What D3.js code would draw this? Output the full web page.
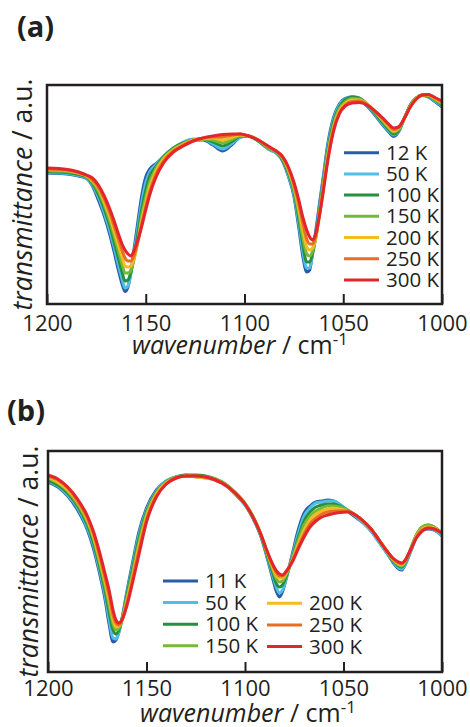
<!DOCTYPE html>
<html>
<head>
<meta charset="utf-8">
<script src="https://cdn.jsdelivr.net/npm/d3@7"></script>
<style>
  body { margin: 0; background: #fff; }
  svg { display: block; font-family: "Open Sans", sans-serif; }
</style>
</head>
<body>
<svg id="chart" width="470" height="727"></svg>
<script>
// legend labels and colours (cold -> warm)
var tempsA = ["12 K", "50 K", "100 K", "150 K", "200 K", "250 K", "300 K"]
var tempsB = ["11 K", "50 K", "100 K", "150 K", "200 K", "250 K", "300 K"]
var colors = ["#2b5ba8", "#4dbfe8", "#27903f", "#74b93a", "#f3bc1f", "#e66f25", "#e3262b"]
var xTicks = [1200, 1150, 1100, 1050, 1000]

// panel (a) : wavenumber (cm-1) and transmittance (a.u.) for each temperature
var wnA = [1200,1194,1188,1184,1180,1177,1174,1171,1168,1166,1164,1162,1160.5,1159,1157.5,1156,1154,1152,1150,1148,1145,1141,1136,1131,1126,1121,1116,1111,1106,1102,1098,1093,1088,1084,1081,1078,1075,1072.5,1070.5,1068.5,1067,1065.5,1064,1062,1060,1058,1055,1052,1049,1045.5,1042,1038,1034,1030,1027,1024.5,1022,1019,1016,1013,1010,1007,1004,1000]
var a12  = [131,130.5,129.5,128,125.5,118,104,88,68,52,35,20,12.5,17,32,54,82,109,127,135,140,147,155,161,164,164,159,153,160,167,168,163,155,151,144,129,108,76,48,32,34,52,72,101,129,158,186,200,205.5,207,205,198,189,179,172,167.5,172,186,199,206,208.5,207,203,197]
var a50  = [131.5,131,130,128.5,126,119,107,91,72,57,40,25,16,18,31,50,76,102,121,132,139,148,156,162,165,165,160,155,161,167,168,163,155,151,145,130,110,80,53,36,36,50,68,97,126,155,184,199,205,207.5,206,199,190,180,173,169,172.5,186,199,206,209,207.5,203.5,198]
var a100 = [132.5,132,131,129.5,127,120.5,110,95,77,62,47,32,23,24,32,46,70,95,114,128,137,147,156,161,164,165,162,158,163,168,168,163,156,152,145,132,113,85,60,42,42,51,66,94,123,152,181,197,204,207,206,200,191,181.5,174.5,170,173.5,186,199,206,209,208,204.5,199]
var a150 = [133.5,133,132,130.5,127.5,122,113,99,82,68,54,40,31,31,34,44,64,89,107,122,135,146,155,160,164,165,164,161,165,168.5,168,164,156,152,146,134,115,90,67,50,48,53,65,92,120,149,178,195,202,205.5,205,200,192,183,176,172,174.5,186,198,206,209,208.5,205,200]
var a200 = [134.5,134,133,131,128,123,116,102,86,73,60,47,38,37,38,45,62,84,101,117,132,145,154,160,164,165,166,164,167,169,168,164,157,153,147,135,118,95,74,57,54,56,65,90,118,146,176,193,200.5,204,204,200,193,184,177.5,173,175.5,186,198,205.5,209,209,206,201]
var a250 = [135,134.5,133.5,131.5,128.5,124,117,105,90,78,66,54,46,43,43,48,62,80,97,112,129,143,153,159,163,166,167,167,169,170,168,164,157,153,148,137,120,100,81,65,60,60,67,89,116,143,174,191,199,202.5,203,199.5,193,185,179,174.5,176.5,186,197.5,205,209,209.5,206.5,202]
var a300 = [136,135.5,134,132,129,126,119,108,94,83,71,60,54,50,48,53,64,78,94,109,126,141,152,158,163,166,168,169.5,170,170,168,164,158,153,148,138,122,104,87,74,67,64,70,89,114,141,172,190,198,201,201.5,199,193,186,180,176,177,186,197,205,209,209.5,207,203]

// panel (b)
var wnB = [1200,1195,1190,1185,1180,1177,1174,1171,1169,1167,1165.5,1164,1162,1160,1157,1154,1150,1145,1140,1135,1130,1125,1120,1115,1110,1105,1100,1096,1092,1089,1086,1084,1082.5,1081,1079,1076,1073,1070,1067,1064,1061,1058,1055,1052,1048,1044,1040,1036,1032,1028,1025,1022,1020.5,1019,1016,1013,1010,1007,1004,1000]
var b11  = [190,185,176,162,142,124,100,72,48,30,32,40,58,80,110,139,164,182,191,195,196,196,195,192,187,178,167,154,136,116,94,80,75,80,94,118,142,159,166,170,171,172,171,167,161,155,149,141,130,119,110,103,102,106,120,135,142,143,142,136]
var b50  = [191,186,177,164,144,127,103,76,53,34,33,40,57,78,107,136,162,181,191,195,197,195,194,192,187,178,167,154,136,117,97,84,79,82,94,116,138,156,164,169,170,171,171,168,162,156,149,141,130,119,111,104,103,106,120,135,143,144,142,136]
var b100 = [192,187,179,166,147,130,107,81,60,42,38,42,56,76,104,132,160,180,190,195,197,197,196,193,188,179,168,155,137,118,100,88,85,87,96,114,134,151,160,165,167,168,168,166,162,157,151,143,132,121,112,106,105,108,122,137,145,147,145,139]
var b150 = [194,189,181,168,150,134,111,86,67,48,42,44,55,73,100,128,158,179,190,195,196,196,195,193,188,180,169,156,138,120,103,93,90,91,98,113,131,147,156,161,164,166,166,165,162,157,151,143,132,121,113,107,106,109,123,137,145,147,145,139]
var b200 = [195,190,182,170,152,136,114,90,72,53,45,46,55,71,96,124,155,178,189,194,196,195,194,192,187,179,168,155,138,121,105,96,94,94,99,112,128,142,152,158,161,163,164,163,161,157,151,143,132,121,113,108,107,110,122,136,143,145,144,139]
var b250 = [196,192,184,171,154,139,118,94,77,57,49,47,54,68,93,120,152,176,188,194,196,196,195,192,187,179,168,155,138,122,107,99,96,96,100,111,125,138,148,154,158,160,161,161,161,157,151,143,132,121,114,109,108,111,122,135,142,144,143,139]
var b300 = [197,193,185,173,156,141,121,98,82,62,52,49,54,66,90,116,150,175,188,194,196,196,195,192,187,179,168,155,138,122,108,101,98,97,101,110,123,135,145,151,155,157,158.5,159.5,160,157,151,143,132,121,114,110,109,111,122,134,141,144,143,139]

var svg = d3.select("#chart")
var ink = "#231f20"

function drawPanel(p) {
  var g = svg.append("g")

  var x = d3.scaleLinear()
    .domain([1200, 1000])
    .range([p.left, p.right])

  var y = d3.scaleLinear()
    .domain([0, p.bottom - p.top])
    .range([p.bottom, p.top])

  var line = d3.line()
    .curve(d3.curveMonotoneX)
    .x(d => x(d[0]))
    .y(d => y(d[1]))

  // spectra, coldest first so the 300 K trace sits on top
  p.series.forEach(function(vals, i) {
    g.append("path")
      .datum(p.wn.map((w, j) => [w, vals[j]]))
      .attr("fill", "none")
      .attr("stroke", colors[i])
      .attr("stroke-width", 3)
      .attr("stroke-linejoin", "round")
      .attr("d", line)
  })

  // inward ticks + labels
  var xAxis = g.append("g")
    .attr("transform", `translate(0,${p.bottom})`)
    .call(d3.axisBottom(x).tickValues(xTicks).tickFormat(d3.format("d")).tickSize(-10).tickPadding(p.pad))
  xAxis.select(".domain").remove()
  xAxis.selectAll(".tick line").attr("stroke", ink).attr("stroke-width", 2)
  xAxis.selectAll(".tick text")
    .attr("fill", ink)
    .style("font-size", "22px")
    .style("font-family", "Open Sans, sans-serif")

  // frame
  g.append("rect")
    .attr("x", p.left)
    .attr("y", p.top)
    .attr("width", p.right - p.left)
    .attr("height", p.bottom - p.top)
    .attr("fill", "none")
    .attr("stroke", ink)
    .attr("stroke-width", 2.5)

  // axis titles
  var xt = g.append("text")
    .attr("x", p.xTitleX)
    .attr("y", p.xTitleY)
    .attr("text-anchor", "middle")
    .attr("fill", ink)
    .style("font-size", "25px")
  xt.append("tspan").style("font-style", "italic").text("wavenumber")
  xt.append("tspan").text(" / cm")
  xt.append("tspan").attr("dy", -9).style("font-size", "17px").text("-1")

  var yt = g.append("text")
    .attr("transform", `translate(${p.yTitleX},${(p.top + p.bottom) / 2}) rotate(-90)`)
    .attr("text-anchor", "middle")
    .attr("fill", ink)
    .style("font-size", "26.5px")
  yt.append("tspan").style("font-style", "italic").text("transmittance")
  yt.append("tspan").text(" / a.u.")

  // panel letter
  g.append("text")
    .attr("x", p.labelX)
    .attr("y", p.labelY)
    .attr("fill", ink)
    .style("font-size", "29px")
    .style("font-weight", "bold")
    .text(p.label)

  // legend
  var leg = g.selectAll(".leg")
    .data(p.temps)
    .join("g")
    .attr("transform", (d, i) => `translate(${p.legPos[i][0]},${p.legPos[i][1]})`)
  leg.append("line")
    .attr("x1", 0).attr("x2", 35)
    .attr("stroke", (d, i) => colors[i])
    .attr("stroke-width", 3)
  leg.append("text")
    .attr("x", 42)
    .attr("dy", "0.35em")
    .attr("fill", ink)
    .style("font-size", "20.5px")
    .text(d => d)
}

var legA = tempsA.map((t, i) => [344, 152.7 + i * 21.2])
var legB = tempsB.map((t, i) => i < 4 ? [163, 581 + i * 21.6] : [267, 603.3 + (i - 4) * 21.6])

drawPanel({
  label: "(a)", labelX: 17, labelY: 37,
  left: 47, right: 442, top: 85, bottom: 304, pad: 11,
  xTitleX: 240, xTitleY: 354, yTitleX: 32,
  wn: wnA, series: [a12, a50, a100, a150, a200, a250, a300],
  temps: tempsA, legPos: legA
})

drawPanel({
  label: "(b)", labelX: 7, labelY: 421,
  left: 48, right: 442, top: 451, bottom: 672, pad: 8,
  xTitleX: 248, xTitleY: 722, yTitleX: 38,
  wn: wnB, series: [b11, b50, b100, b150, b200, b250, b300],
  temps: tempsB, legPos: legB
})
</script>
</body>
</html>
